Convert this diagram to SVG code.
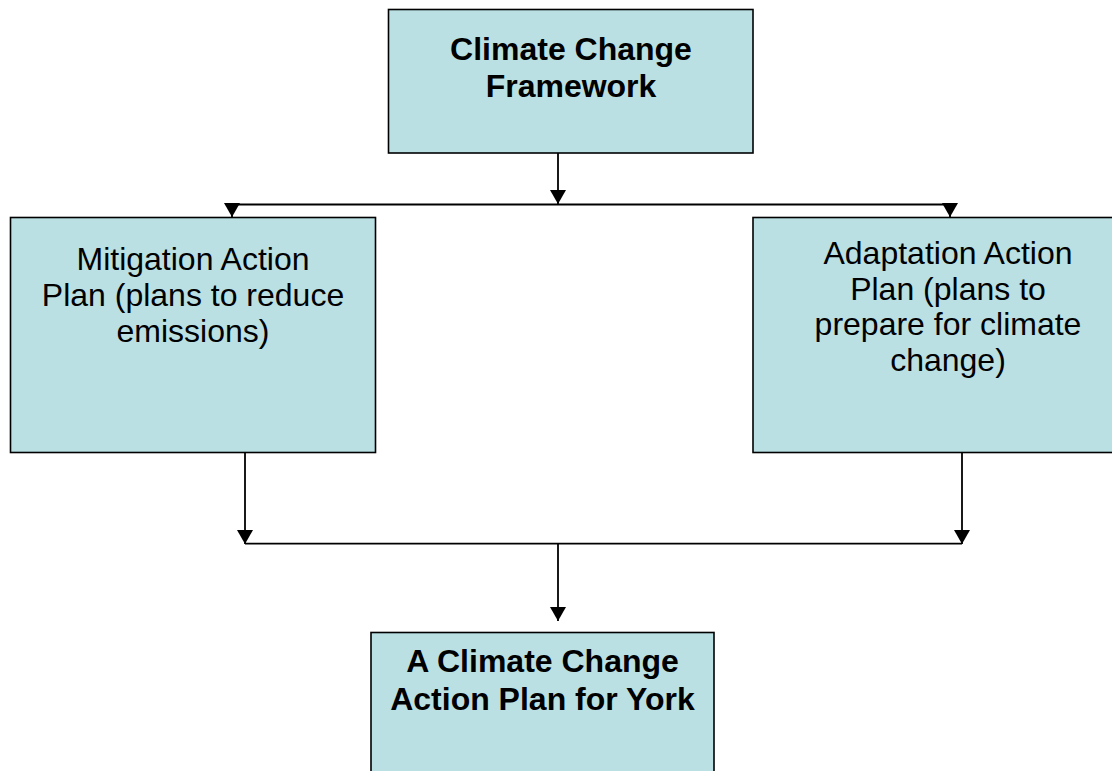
<svg xmlns="http://www.w3.org/2000/svg" width="1112" height="771" viewBox="0 0 1112 771">
<style>
.box{fill:#BAE0E3;stroke:#000;stroke-width:1.6}
.t{font-family:"Liberation Sans",Arial,sans-serif;font-size:32px;fill:#000;text-anchor:middle}
.b{font-weight:bold}
.c{stroke:#000;stroke-width:1.8;fill:none}
</style>
<defs>
<marker id="ah" viewBox="0 0 14 16" refX="14" refY="8" markerWidth="14" markerHeight="16" markerUnits="userSpaceOnUse" orient="auto">
<path d="M0,0 L14,8 L0,16 Z" fill="#000"/>
</marker>
</defs>
<rect width="1112" height="771" fill="#fff"/>
<g id="framework">
<rect class="box" x="388.5" y="9.5" width="364.5" height="143.5"/>
<text class="t b" x="571" y="59.5">Climate Change</text>
<text class="t b" x="571" y="96.5">Framework</text>
</g>
<g id="mitigation">
<rect class="box" x="10.5" y="217.5" width="365" height="235"/>
<text class="t" x="193" y="269.5">Mitigation Action</text>
<text class="t" x="193" y="306">Plan (plans to reduce</text>
<text class="t" x="193" y="342">emissions)</text>
</g>
<g id="adaptation">
<rect class="box" x="753" y="217.5" width="390" height="235"/>
<text class="t" x="948" y="263.5">Adaptation Action</text>
<text class="t" x="948" y="299.5">Plan (plans to</text>
<text class="t" x="948" y="335">prepare for climate</text>
<text class="t" x="948" y="370.5">change)</text>
</g>
<g id="york">
<rect class="box" x="371" y="632.5" width="343" height="150"/>
<text class="t b" x="542.5" y="671.5">A Climate Change</text>
<text class="t b" x="542.5" y="710">Action Plan for York</text>
</g>
<g id="connectors">
<line class="c" x1="558" y1="153" x2="558" y2="204" marker-end="url(#ah)"/>
<line class="c" x1="232" y1="204.5" x2="950" y2="204.5"/>
<line class="c" x1="232" y1="204.5" x2="232" y2="217" marker-end="url(#ah)"/>
<line class="c" x1="950" y1="204.5" x2="950" y2="217" marker-end="url(#ah)"/>
<line class="c" x1="245" y1="453" x2="245" y2="544" marker-end="url(#ah)"/>
<line class="c" x1="962" y1="453" x2="962" y2="544" marker-end="url(#ah)"/>
<line class="c" x1="245" y1="543.7" x2="962" y2="543.7"/>
<line class="c" x1="558" y1="543.7" x2="558" y2="621" marker-end="url(#ah)"/>
</g>
</svg>
